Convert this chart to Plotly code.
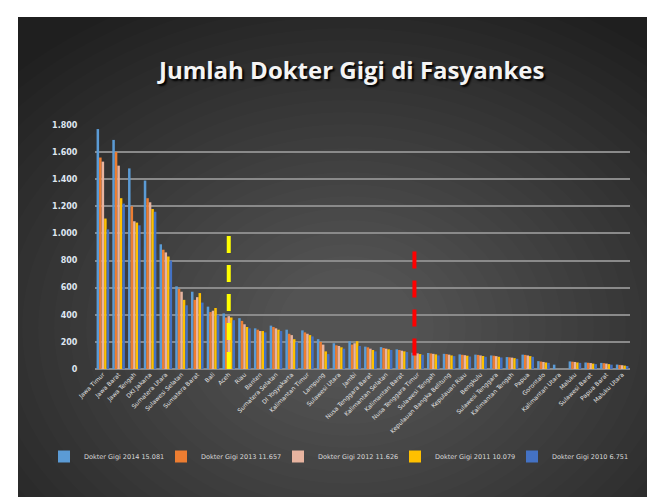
import plotly.graph_objects as go

# ---------------- data ----------------
provinces = ["Jawa Timur", "Jawa Barat", "Jawa Tengah", "DKI Jakarta", "Sumatera Utara",
             "Sulawesi Selatan", "Sumatera Barat", "Bali", "Aceh", "Riau", "Banten",
             "Sumatera Selatan", "DI Yogyakarta", "Kalimantan Timur", "Lampung",
             "Sulawesi Utara", "Jambi", "Nusa Tenggara Barat", "Kalimantan Selatan",
             "Kalimantan Barat", "Nusa Tenggara Timur", "Sulawesi Tengah",
             "Kepulauan Bangka Belitung", "Kepulauan Riau", "Bengkulu", "Sulawesi Tenggara",
             "Kalimantan Tengah", "Papua", "Gorontalo", "Kalimantan Utara", "Maluku",
             "Sulawesi Barat", "Papua Barat", "Maluku Utara"]

dg_2014 = [1770, 1690, 1480, 1390, 920, 610, 570, 460, 410, 375, 300, 320, 290, 285, 220, 190,
           205, 165, 162, 145, 120, 118, 112, 108, 106, 100, 88, 106, 58, 32, 56, 48, 45, 33]
dg_2013 = [1560, 1600, 1200, 1260, 880, 590, 510, 420, 380, 355, 290, 310, 260, 270, 200, 175,
           180, 160, 155, 140, 118, 115, 110, 105, 104, 98, 86, 104, 55, 0, 54, 46, 43, 30]
dg_2012 = [1530, 1500, 1090, 1230, 860, 570, 530, 430, 390, 330, 280, 300, 250, 260, 180, 170,
           190, 150, 150, 135, 115, 112, 106, 102, 100, 95, 84, 100, 52, 0, 52, 44, 40, 28]
dg_2011 = [1110, 1260, 1080, 1180, 830, 510, 560, 450, 380, 310, 280, 290, 220, 250, 130, 160,
           205, 140, 145, 130, 110, 108, 100, 98, 96, 90, 80, 95, 48, 0, 48, 40, 36, 25]
dg_2010 = [1030, 1220, 1060, 1160, 800, 470, 490, 400, 360, 300, 270, 280, 200, 240, 110, 150,
           170, 130, 140, 125, 105, 100, 95, 92, 90, 85, 75, 90, 45, 0, 45, 36, 32, 22]

series_names = ["Dokter Gigi 2014 15.081", "Dokter Gigi 2013 11.657", "Dokter Gigi 2012 11.626",
                "Dokter Gigi 2011 10.079", "Dokter Gigi 2010 6.751"]
series_values = [dg_2014, dg_2013, dg_2012, dg_2011, dg_2010]
series_colors = ["#5B9BD5", "#ED7D31", "#E8B4A0", "#FFC000", "#4472C4"]

y_ticks = [0, 200, 400, 600, 800, 1000, 1200, 1400, 1600, 1800]

# dashed marker lines: (category position, y from, y to, colour)
marker_x = [8.0, 19.8]
marker_y0 = [0, 100]
marker_y1 = [1000, 920]
marker_colors = ["#FFFF00", "#FF0000"]

# ---------------- layout geometry ----------------
W, H = 655, 497
PL, PR, PT, PB = 87, 622, 117, 361


def px(x):
    return (x - PL) / (PR - PL)


def py(y):
    return (PB - y) / (PB - PT)


fig = go.Figure()
for name, vals, col in zip(series_names, series_values, series_colors):
    fig.add_trace(go.Bar(x=provinces, y=vals, name=name, marker_color=col,
                         marker_line_width=0))

shapes = []
# background (white border + dark radial-ish gradient)
shapes.append(dict(type="rect", xref="paper", yref="paper", x0=px(10), x1=px(W + 5),
                   y0=py(H + 5), y1=py(9), fillcolor="#1f1f1f", line_width=0, layer="below"))
N = 26
for i in range(N):
    rx = 470 - i * 16
    ry = 360 - i * 12
    cx, cy = 340, 320
    shapes.append(dict(type="circle", xref="paper", yref="paper",
                       x0=px(cx - rx), x1=px(cx + rx), y0=py(cy + ry), y1=py(cy - ry),
                       fillcolor="rgba(255,255,255,0.0115)", line_width=0, layer="below"))
# white strips for the outer border
shapes.append(dict(type="rect", xref="paper", yref="paper", x0=px(-5), x1=px(W + 5),
                   y0=py(9), y1=py(-5), fillcolor="white", line_width=0, layer="below"))
shapes.append(dict(type="rect", xref="paper", yref="paper", x0=px(-5), x1=px(10),
                   y0=py(H + 5), y1=py(-5), fillcolor="white", line_width=0, layer="below"))

for mx, y0, y1, c in zip(marker_x, marker_y0, marker_y1, marker_colors):
    shapes.append(dict(type="line", xref="x", yref="y", x0=mx, x1=mx, y0=y0, y1=y1,
                       line=dict(color=c, width=4, dash="17px,12px"), layer="above"))

fig.update_layout(
    width=W, height=H,
    margin=dict(l=PL, r=W - PR, t=PT, b=H - PB, autoexpand=False),
    paper_bgcolor="white",
    plot_bgcolor="rgba(0,0,0,0)",
    separators=",.",
    barmode="group",
    bargap=0.2,
    bargroupgap=0.0,
    shapes=shapes,
    showlegend=True,
    legend=dict(orientation="h", x=px(36), xanchor="left", xref="paper",
                y=py(463), yanchor="bottom", yref="paper",
                font=dict(family="DejaVu Sans", size=6.5, color="#d8d8d8"),
                itemwidth=30, entrywidth=72, entrywidthmode="pixels",
                bgcolor="rgba(0,0,0,0)", tracegroupgap=0),
    annotations=[
        dict(text="<b>Jumlah Dokter Gigi di Fasyankes</b>", xref="paper", yref="paper",
             x=px(343), y=py(62), xanchor="center", yanchor="middle", showarrow=False,
             font=dict(family="Open Sans", size=24, color="#F4F4F4",
                       shadow="2px 2px 2px #000000")),
    ],
)

fig.update_xaxes(
    type="category", tickangle=-45, automargin=False,
    tickfont=dict(family="DejaVu Sans", size=6, color="#e6e6e6"),
    showgrid=False, showline=False, zeroline=False, ticks="",
)
fig.update_yaxes(
    range=[0, 1800], tickvals=y_ticks, tickformat=",d", automargin=False,
    tickfont=dict(family="DejaVu Sans", size=8, color="#dfe6f0", weight="bold"),
    showgrid=True, gridcolor="#8a8a8a", gridwidth=2,
    zeroline=True, zerolinecolor="#8a8a8a", zerolinewidth=2,
    ticks="outside", ticklen=15, tickcolor="rgba(0,0,0,0)", showline=False,
)

fig.write_html("out.html")
